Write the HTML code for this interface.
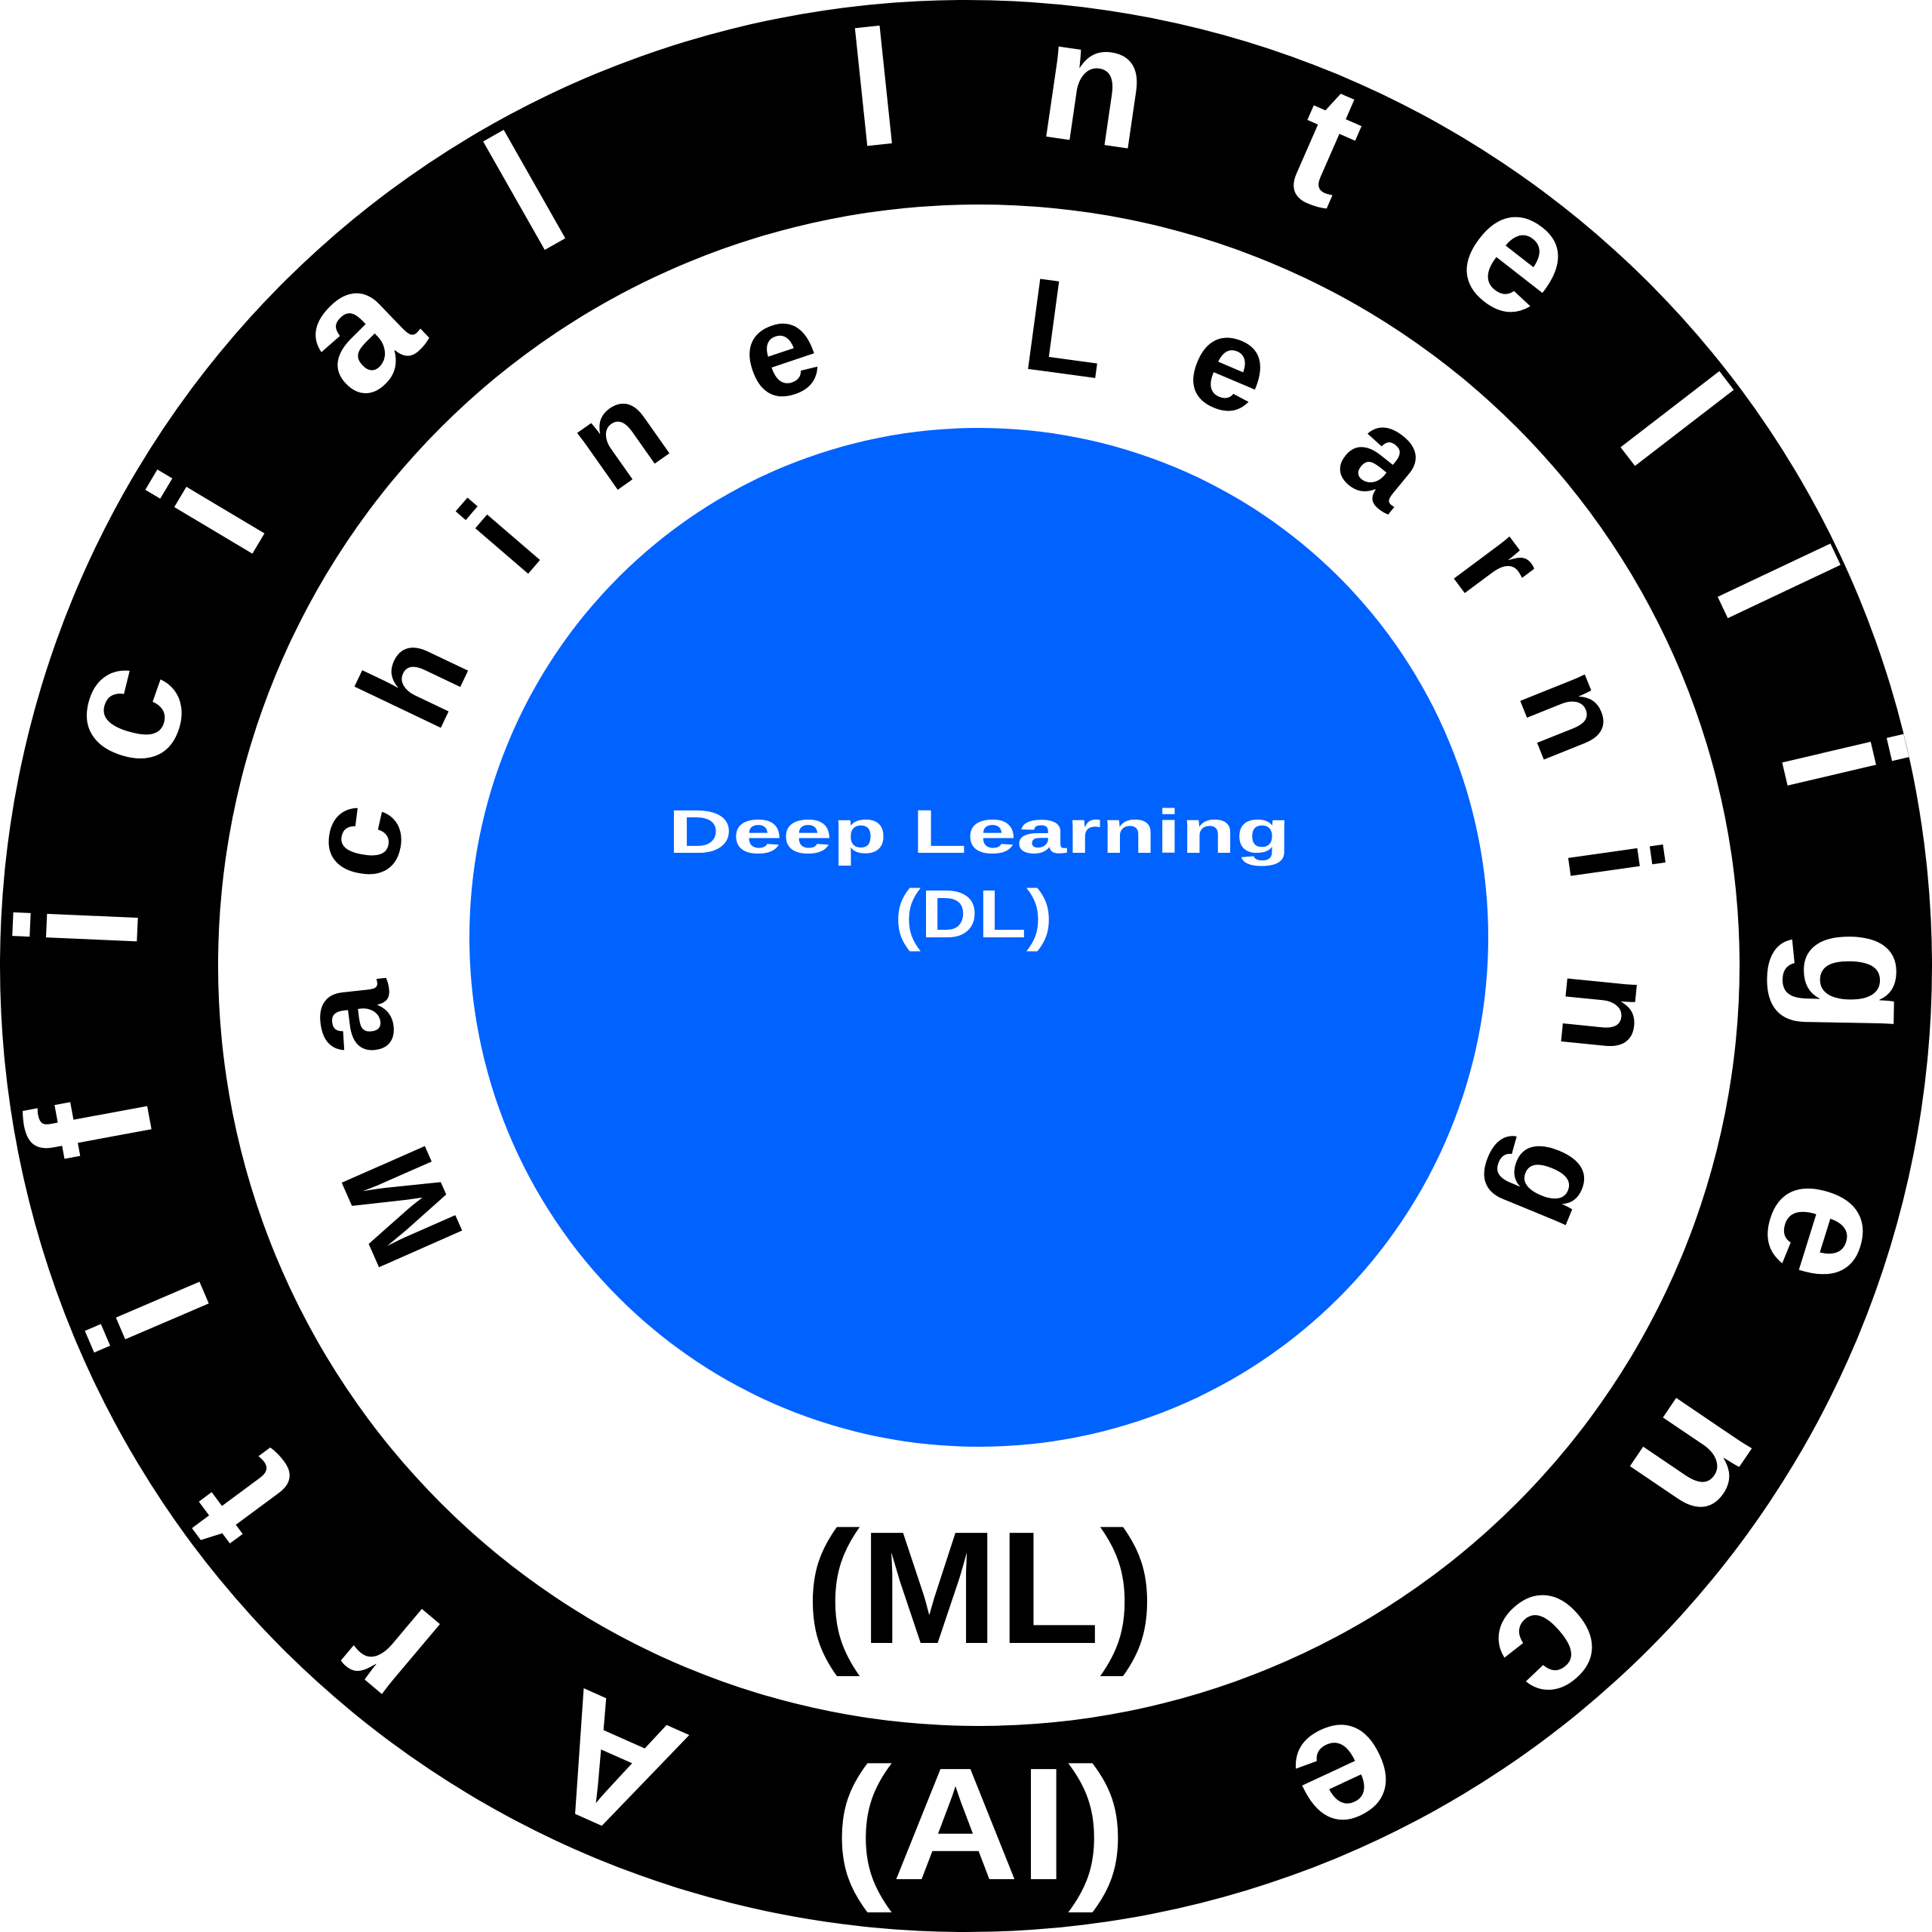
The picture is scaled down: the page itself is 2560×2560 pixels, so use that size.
<!DOCTYPE html>
<html><head><meta charset="utf-8"><style>
html,body{margin:0;padding:0;background:#fff;}
svg{display:block;}
.o{font-family:"Liberation Sans",sans-serif;font-weight:bold;font-size:228px;fill:#fff;text-anchor:middle;}
.m{font-family:"Liberation Sans",sans-serif;font-weight:bold;font-size:175px;fill:#000;text-anchor:middle;}
</style></head><body>
<svg width="2560" height="2560" viewBox="0 0 2560 2560" xmlns="http://www.w3.org/2000/svg">
<rect width="2560" height="2560" fill="#fff"/>
<circle cx="1280" cy="1280" r="1280" fill="#000"/>
<circle cx="1297" cy="1279" r="1008" fill="#fff"/>
<circle cx="1297" cy="1242" r="675" fill="#0062ff"/>

<!-- outer ring: Artificial Intelligence -->
<text class="o" x="810" y="2343" dy="0.36em" transform="rotate(203.9 810 2343)">A</text>
<text class="o" x="523" y="2179" dy="0.26em" transform="rotate(220.1 523 2179)">r</text>
<text class="o" x="320" y="1990" dy="0.33em" transform="rotate(233.5 320 1990)">t</text>
<text class="o" x="195" y="1745" dy="0.36em" transform="rotate(246.8 195 1745)">i</text>
<text class="o" x="117" y="1495" dy="0.36em" transform="rotate(259.5 117 1495)">f</text>
<text class="o" x="100" y="1228" dy="0.36em" transform="rotate(272.5 100 1228)">i</text>
<text class="o" x="178" y="949" dy="0.26em" transform="rotate(286.7 178 949)">c</text>
<text class="o" x="272" y="678" dy="0.36em" transform="rotate(300.8 272 678)">i</text>
<text class="o" x="482" y="451" dy="0.26em" transform="rotate(316.1 482 451)">a</text>
<text class="o" x="695" y="252" dy="0.36em" transform="rotate(330.4 695 252)">l</text>
<text class="o" x="1157" y="110" dy="0.36em" transform="rotate(354 1157 110)">I</text>
<text class="o" x="1448" y="130" dy="0.26em" transform="rotate(8.3 1448 130)">n</text>
<text class="o" x="1755" y="195" dy="0.33em" transform="rotate(23.6 1755 195)">t</text>
<text class="o" x="2003" y="350" dy="0.26em" transform="rotate(37.9 2003 350)">e</text>
<text class="o" x="2222" y="555" dy="0.36em" transform="rotate(52.4 2222 555)">l</text>
<text class="o" x="2357" y="770" dy="0.36em" transform="rotate(64.7 2357 770)">l</text>
<text class="o" x="2445" y="1007" dy="0.36em" transform="rotate(76.8 2445 1007)">i</text>
<text class="o" x="2425" y="1301" dy="0.155em" transform="rotate(91 2425 1301)">g</text>
<text class="o" x="2405" y="1631" dy="0.26em" transform="rotate(107.3 2405 1631)">e</text>
<text class="o" x="2240" y="1930" dy="0.26em" transform="rotate(124.1 2240 1930)">n</text>
<text class="o" x="2049" y="2174" dy="0.26em" transform="rotate(139.3 2049 2174)">c</text>
<text class="o" x="1778" y="2347" dy="0.26em" transform="rotate(155 1778 2347)">e</text>
<text x="1104" y="2490" font-family="Liberation Sans, sans-serif" font-weight="bold" font-size="212" fill="#fff" textLength="389" lengthAdjust="spacingAndGlyphs">(AI)</text>

<!-- inner ring: Machine Learning -->
<text class="m" x="530" y="1600" dy="0.36em" transform="rotate(246.2 530 1600)">M</text>
<text class="m" x="473" y="1350" dy="0.26em" transform="rotate(263.8 473 1350)">a</text>
<text class="m" x="484" y="1116" dy="0.26em" transform="rotate(280 484 1116)">c</text>
<text class="m" x="545" y="900" dy="0.36em" transform="rotate(295.5 545 900)">h</text>
<text class="m" x="660" y="710" dy="0.36em" transform="rotate(310.7 660 710)">i</text>
<text class="m" x="826" y="588" dy="0.26em" transform="rotate(324.8 826 588)">n</text>
<text class="m" x="1037" y="478" dy="0.26em" transform="rotate(341.4 1037 478)">e</text>
<text class="m" x="1412" y="432" dy="0.36em" transform="rotate(7.7 1412 432)">L</text>
<text class="m" x="1625" y="496" dy="0.26em" transform="rotate(23 1625 496)">e</text>
<text class="m" x="1829" y="616" dy="0.26em" transform="rotate(39.4 1829 616)">a</text>
<text class="m" x="1976" y="757" dy="0.26em" transform="rotate(53.3 1976 757)">r</text>
<text class="m" x="2072" y="950" dy="0.26em" transform="rotate(68.1 2072 950)">n</text>
<text class="m" x="2142" y="1140" dy="0.36em" transform="rotate(81.9 2142 1140)">i</text>
<text class="m" x="2118" y="1342" dy="0.26em" transform="rotate(95.7 2118 1342)">n</text>
<text class="m" x="2030" y="1560" dy="0.155em" transform="rotate(112.3 2030 1560)">g</text>
<text x="1066" y="2177" font-family="Liberation Sans, sans-serif" font-weight="bold" font-size="212" fill="#000" textLength="465" lengthAdjust="spacingAndGlyphs">(ML)</text>

<!-- center -->
<text x="885" y="1130" font-family="Liberation Sans, sans-serif" font-weight="bold" font-size="82" fill="#fff" textLength="825" lengthAdjust="spacingAndGlyphs">Deep Learning</text>
<text x="1185" y="1242" font-family="Liberation Sans, sans-serif" font-weight="bold" font-size="90" fill="#fff" textLength="210" lengthAdjust="spacingAndGlyphs">(DL)</text>
</svg>
</body></html>
